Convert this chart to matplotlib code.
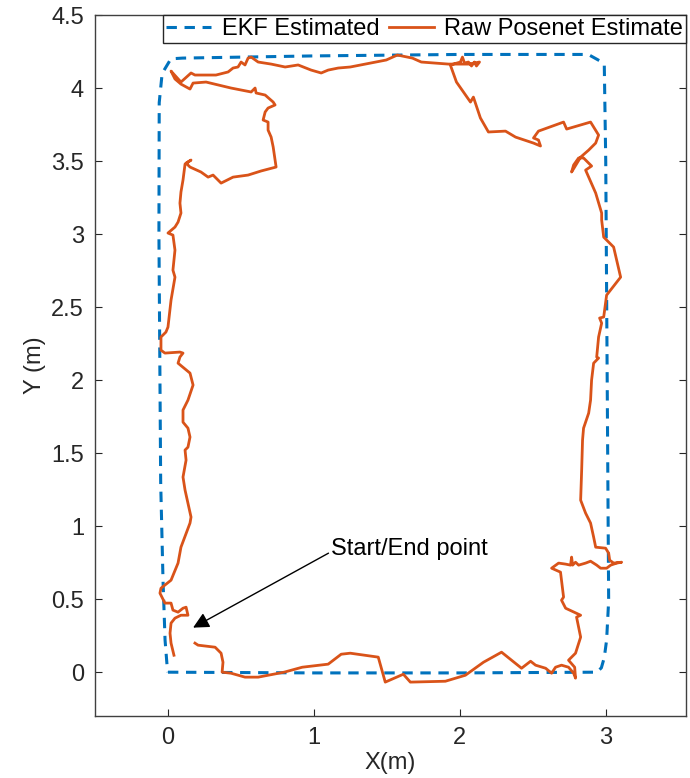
import matplotlib
matplotlib.use("Agg")
import matplotlib.pyplot as plt
from matplotlib.ticker import FixedLocator, FuncFormatter

plt.rcParams['font.family'] = ['Liberation Sans', 'DejaVu Sans']

# EKF estimated trajectory (smooth rectangle)
ekf_x = [0.0, 1.0, 2.0, 2.94, 2.97, 2.99, 3.006, 3.02, 3.01, 3.0, 2.99, 2.97, 2.88,
         2.0, 1.0, 0.1, 0.02, -0.04, -0.06, -0.062, -0.05, -0.034, -0.02, -0.005, 0.0]
ekf_y = [0.0, -0.005, -0.005, 0.0, 0.03, 0.1, 0.22, 0.49, 2.0, 3.5, 4.16, 4.18, 4.23,
         4.23, 4.22, 4.205, 4.20, 4.1, 3.9, 3.0, 1.3, 0.63, 0.22, 0.03, 0.0]

# Raw PoseNet estimate (traced from start near (0.19, 0.2) clockwise-ish to end)
raw_x = [0.185, 0.206, 0.323, 0.364, 0.377, 0.371, 0.432, 0.528, 0.618, 0.796, 0.920,
         1.098, 1.187, 1.249, 1.441, 1.489, 1.613, 1.661, 1.901, 2.038, 2.162, 2.286,
         2.423, 2.485, 2.519, 2.588, 2.629, 2.656, 2.697, 2.745, 2.780, 2.793, 2.787,
         2.745, 2.793, 2.828, 2.800, 2.828, 2.725, 2.697, 2.711, 2.697, 2.690, 2.629,
         2.677, 2.725, 2.759, 2.766, 2.773, 2.793, 2.814, 2.862, 2.896, 2.938, 2.965,
         3.006, 3.034, 3.075, 3.109, 3.054, 3.027, 3.020, 2.999, 2.931, 2.917, 2.896,
         2.862, 2.828, 2.835, 2.841, 2.848, 2.883, 2.896, 2.903, 2.917, 2.951, 2.938,
         2.951, 2.972, 2.958, 2.986, 3.006, 3.102, 3.054, 2.986, 2.972, 2.972, 2.931,
         2.862, 2.903, 2.848, 2.814, 2.780, 2.766, 2.787, 2.828, 2.883, 2.931, 2.951,
         2.896, 2.732, 2.711, 2.539, 2.505, 2.539, 2.553, 2.505, 2.382, 2.313, 2.196,
         2.141, 2.093, 2.073, 1.977, 1.935, 2.004, 2.018, 2.032, 2.059, 2.080, 2.100,
         2.114, 2.135, 2.059, 1.922, 1.736, 1.675, 1.572, 1.496, 1.249, 1.167, 1.098,
         1.050, 0.981, 0.892, 0.803, 0.707, 0.618, 0.570, 0.549, 0.528, 0.501, 0.480,
         0.446, 0.412, 0.329, 0.261, 0.185, 0.158, 0.089, 0.021, 0.048, 0.089, 0.151,
         0.172, 0.261, 0.343, 0.432, 0.570, 0.597, 0.604, 0.666, 0.721, 0.734, 0.686,
         0.666, 0.652, 0.686, 0.686, 0.707, 0.721, 0.741, 0.638, 0.549, 0.446, 0.364,
         0.309, 0.275, 0.226, 0.151, 0.124, 0.158, 0.117, 0.103, 0.089, 0.082, 0.089,
         0.069, 0.048, 0.0, 0.034, 0.048, 0.034, 0.048, 0.021, 0.0, -0.014, -0.048,
         -0.048, -0.021, 0.082, 0.103, 0.082, 0.069, 0.151, 0.172, 0.137, 0.103, 0.103,
         0.137, 0.151, 0.137, 0.117, 0.124, 0.103, 0.117, 0.158, 0.151, 0.089, 0.069,
         0.021, -0.048, -0.055, -0.021, 0.021, 0.034, 0.069, 0.103, 0.124, 0.137, 0.089,
         0.048, 0.021, 0.014, 0.021, 0.041]
raw_y = [0.199, 0.185, 0.171, 0.130, 0.068, 0.0, -0.007, -0.034, -0.034, 0.0, 0.034,
         0.055, 0.123, 0.130, 0.103, -0.068, -0.014, -0.068, -0.062, -0.021, 0.068, 0.137,
         0.027, 0.075, 0.048, 0.027, -0.007, 0.034, 0.048, 0.034, -0.007, -0.041, 0.034,
         0.082, 0.130, 0.240, 0.377, 0.390, 0.438, 0.493, 0.514, 0.630, 0.685, 0.712,
         0.747, 0.740, 0.733, 0.788, 0.733, 0.753, 0.733, 0.747, 0.760, 0.733, 0.712,
         0.712, 0.733, 0.747, 0.753, 0.747, 0.767, 0.815, 0.849, 0.856, 0.925, 1.021,
         1.089, 1.178, 1.384, 1.589, 1.671, 1.774, 1.863, 2.000, 2.116, 2.151, 2.158,
         2.295, 2.390, 2.425, 2.432, 2.582, 2.705, 2.911, 2.979, 3.096, 3.144, 3.281,
         3.438, 3.466, 3.521, 3.521, 3.473, 3.425, 3.459, 3.527, 3.575, 3.623, 3.678,
         3.767, 3.719, 3.767, 3.705, 3.658, 3.644, 3.603, 3.623, 3.664, 3.705, 3.699,
         3.795, 3.938, 3.904, 4.041, 4.158, 4.178, 4.212, 4.171, 4.178, 4.151, 4.178,
         4.151, 4.178, 4.164, 4.164, 4.178, 4.205, 4.226, 4.192, 4.144, 4.137, 4.123,
         4.103, 4.123, 4.158, 4.144, 4.164, 4.178, 4.212, 4.205, 4.158, 4.178, 4.144,
         4.137, 4.110, 4.089, 4.089, 4.089, 4.103, 4.041, 4.116, 4.062, 4.027, 3.993,
         4.034, 4.041, 4.021, 4.000, 3.973, 4.000, 3.966, 3.952, 3.904, 3.884, 3.863,
         3.836, 3.781, 3.767, 3.712, 3.664, 3.596, 3.459, 3.432, 3.404, 3.390, 3.349,
         3.404, 3.390, 3.425, 3.459, 3.486, 3.507, 3.479, 3.370, 3.288, 3.212, 3.144,
         3.082, 3.048, 3.007, 2.993, 2.890, 2.753, 2.705, 2.548, 2.363, 2.329, 2.295,
         2.205, 2.185, 2.192, 2.185, 2.158, 2.116, 2.048, 1.966, 1.863, 1.795, 1.712,
         1.671, 1.610, 1.541, 1.521, 1.452, 1.336, 1.247, 1.062, 1.021, 0.856, 0.747,
         0.630, 0.575, 0.541, 0.473, 0.473, 0.425, 0.411, 0.438, 0.445, 0.390, 0.390,
         0.370, 0.336, 0.267, 0.199, 0.116]

x_ticks = [0, 1, 2, 3]
y_ticks = [0, 0.5, 1, 1.5, 2, 2.5, 3, 3.5, 4, 4.5]

arrow_head = (0.172, 0.305)
arrow_tail = (1.10, 0.815)
label_pos = (1.12, 0.842)

fig = plt.figure(figsize=(6.9, 7.78), dpi=100)
ax = fig.add_axes([0.1377, 0.0797, 0.8565, 0.901])

ax.plot(ekf_x, ekf_y, color="#0072BD", linewidth=2.2, dashes=(3.4, 2.5),
        label="EKF Estimated")
ax.plot(raw_x, raw_y, color="#D95319", linewidth=2.0, label="Raw Posenet Estimate")

ax.annotate("", xy=arrow_head, xytext=arrow_tail,
            arrowprops=dict(arrowstyle="-|>", color="black", lw=1.0,
                            mutation_scale=24, shrinkA=0, shrinkB=0))
ax.text(label_pos[0], label_pos[1], "Start/End point", fontsize=17,
        ha="left", va="center", color="black")

ax.set_xlim(-0.5, 3.55)
ax.set_ylim(-0.3, 4.5)
ax.xaxis.set_major_locator(FixedLocator(x_ticks))
ax.yaxis.set_major_locator(FixedLocator(y_ticks))
fmt = FuncFormatter(lambda v, p: ("%g" % v))
ax.xaxis.set_major_formatter(fmt)
ax.yaxis.set_major_formatter(fmt)

ax.tick_params(direction="in", top=True, right=True, length=5, width=0.8,
               labelsize=17, colors="#262626", pad=8)
for sp in ax.spines.values():
    sp.set_color("#404040")
    sp.set_linewidth(1.0)

ax.set_xlabel("X(m)", fontsize=17, color="#262626", labelpad=2)
ax.set_ylabel("Y (m)", fontsize=17, color="#262626", labelpad=4)

leg = ax.legend(loc="upper right", bbox_to_anchor=(1.0, 1.0), borderaxespad=0,
                ncol=2, fontsize=17, handlelength=1.9, handletextpad=0.45,
                columnspacing=0.4, borderpad=0.12, fancybox=False, framealpha=1)
leg.get_frame().set_edgecolor("#262626")
leg.get_frame().set_linewidth(1.0)

fig.savefig("out.png", dpi=100)
